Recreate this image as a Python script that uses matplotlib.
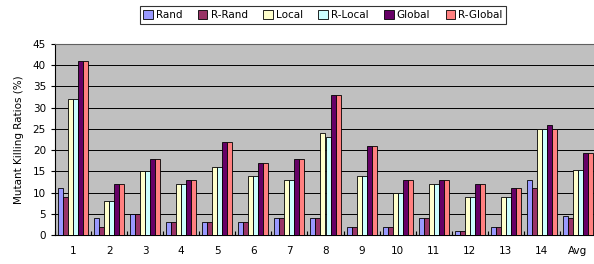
import matplotlib

matplotlib.use("Agg")
import matplotlib.pyplot as plt
import numpy as np

categories = ["1", "2", "3", "4", "5", "6", "7", "8", "9", "10", "11", "12", "13", "14", "Avg"]
series_names = ["Rand", "R-Rand", "Local", "R-Local", "Global", "R-Global"]
rand = [11, 4, 5, 3, 3, 3, 4, 4, 2, 2, 4, 1, 2, 13, 4.5]
r_rand = [9, 2, 5, 3, 3, 3, 4, 4, 2, 2, 4, 1, 2, 11, 3.9]
local = [32, 8, 15, 12, 16, 14, 13, 24, 14, 10, 12, 9, 9, 25, 15.2]
r_local = [32, 8, 15, 12, 16, 14, 13, 23, 14, 10, 12, 9, 9, 25, 15.2]
global_ = [41, 12, 18, 13, 22, 17, 18, 33, 21, 13, 13, 12, 11, 26, 19.3]
r_global = [41, 12, 18, 13, 22, 17, 18, 33, 21, 13, 13, 12, 11, 25, 19.3]
colors = ["#9999FF", "#993366", "#FFFFCC", "#CCFFFF", "#660066", "#FF8080"]

plt.rcParams["font.family"] = "DejaVu Sans"

fig = plt.figure(figsize=(5.94, 2.64), dpi=100)
ax = fig.add_axes([55 / 594, 29 / 264, 541 / 594, 191 / 264])
ax.set_facecolor("#C0C0C0")

x = np.arange(len(categories))
bar_w = 0.139
all_series = [rand, r_rand, local, r_local, global_, r_global]
for i, (name, vals, col) in enumerate(zip(series_names, all_series, colors)):
    offs = (i - 2.5) * bar_w
    ax.bar(x + offs, vals, bar_w, color=col, edgecolor="black", linewidth=0.6,
           label=name, zorder=3)

ax.set_xlim(-0.5, len(categories) - 0.5)
ax.set_ylim(0, 45)
ax.set_yticks(np.arange(0, 46, 5))
ax.yaxis.grid(True, color="black", linewidth=0.7, zorder=0)
ax.set_axisbelow(True)
ax.set_xticks(x)
ax.set_xticklabels(categories, fontsize=7.5)
ax.tick_params(axis="x", length=0, pad=8)
ax.set_xticks(np.arange(-0.5, len(categories), 1), minor=True)
ax.tick_params(axis="x", which="minor", direction="in", length=3, width=0.8)
ax.tick_params(axis="y", labelsize=7.5, length=3, width=0.8)
ax.spines["top"].set_color("#606060")
ax.spines["top"].set_linewidth(0.8)
ax.spines["right"].set_visible(False)
ax.spines["left"].set_linewidth(0.8)
ax.spines["bottom"].set_linewidth(0.8)
ax.set_ylabel("Mutant Killing Ratios (%)", fontsize=7.5, labelpad=6)

leg = fig.legend(loc="center", bbox_to_anchor=(323 / 594, 1 - 15 / 264), ncol=6,
                 fontsize=7.5, frameon=True, fancybox=False, edgecolor="black",
                 handlelength=0.9, handleheight=0.9, handletextpad=0.3,
                 columnspacing=1.5, borderpad=0.35)
leg.get_frame().set_linewidth(0.8)

fig.savefig("out.png", dpi=100)
